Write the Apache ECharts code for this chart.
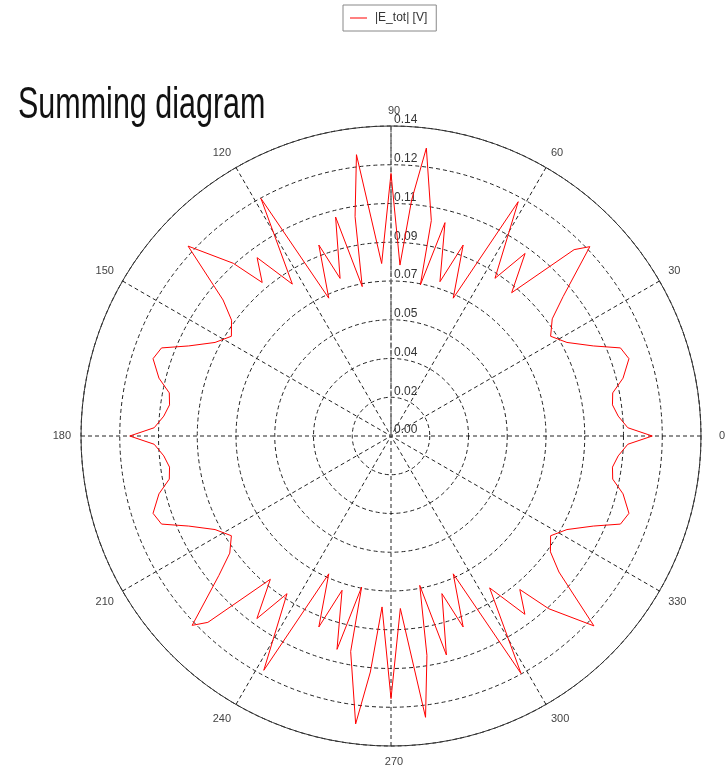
<!DOCTYPE html>
<html>
<head>
<meta charset="utf-8">
<script src="https://cdn.jsdelivr.net/npm/echarts@6/dist/echarts.min.js"></script>
<style>
html, body { margin: 0; padding: 0; background: #fff; }
#polar_chart { width: 726px; height: 765px; }
</style>
</head>
<body>
<div id="polar_chart"></div>
<script>
// angle in degrees (0 = right, counter-clockwise), value in V
var angles = [
    0, 2, 5, 8, 11, 14, 18, 21, 24, 28, 32, 36, 39, 43.6, 45.5, 49.9, 53.7, 56.6, 61.5, 65.7, 69.3, 72.4, 75.8, 79, 79.4, 83, 85, 87,
    90, 93.1, 97, 99.3, 100.9, 104.2, 107.9, 110.7, 114.3, 118.7, 123, 126.9, 130, 132.4, 136.9, 141, 144, 148, 152, 156, 159, 162, 166, 169, 172, 175, 178,
    180, 182, 185, 188, 191, 194, 198, 201, 204, 208, 212, 216, 219, 223.6, 225.5, 229.9, 233.7, 236.6, 241.5, 245.7, 249.3, 252.4, 255.8, 259, 259.4, 263, 265, 267,
    270, 273.1, 277, 279.3, 280.9, 284.2, 287.9, 290.7, 294.3, 298.7, 303, 306.9, 310, 312.4, 316.9, 321, 324, 328, 332, 336, 339, 342, 346, 349, 352, 355, 358
];
var values = [
    0.118, 0.107, 0.103, 0.101, 0.102, 0.108, 0.113, 0.111, 0.100, 0.090, 0.085, 0.090, 0.100, 0.124, 0.118, 0.0846, 0.1023, 0.0853, 0.1204, 0.0683, 0.0922, 0.0731, 0.0994, 0.0695, 0.099, 0.131, 0.107, 0.0773,
    0.1186, 0.078, 0.128, 0.1004, 0.0687, 0.102, 0.0748, 0.0922, 0.0683, 0.1223, 0.0818, 0.1007, 0.0905, 0.1056, 0.1255, 0.0976, 0.089, 0.085, 0.090, 0.100, 0.111, 0.113, 0.108, 0.102, 0.101, 0.103, 0.107,
    0.118, 0.107, 0.103, 0.101, 0.102, 0.108, 0.113, 0.111, 0.100, 0.090, 0.085, 0.090, 0.100, 0.124, 0.118, 0.0846, 0.1023, 0.0853, 0.1204, 0.0683, 0.0922, 0.0731, 0.0994, 0.0695, 0.099, 0.131, 0.107, 0.0773,
    0.1186, 0.078, 0.128, 0.1004, 0.0687, 0.102, 0.0748, 0.0922, 0.0683, 0.1223, 0.0818, 0.1007, 0.0905, 0.1056, 0.1255, 0.0976, 0.089, 0.085, 0.090, 0.100, 0.111, 0.113, 0.108, 0.102, 0.101, 0.103, 0.107
];
var angleTicks = [0, 30, 60, 90, 120, 150, 180, 210, 240, 270, 300, 330];
var radiusMax = 0.14;
var seriesName = '|E_tot| [V]';

var chart = echarts.init(document.getElementById('polar_chart'));

// radius axis sits on the 90 degree line, so the angle axis runs 90..450
var data = [];
for (var i = 0; i < angles.length; i++) {
    var a = angles[i] < 90 ? angles[i] + 360 : angles[i];
    data.push([values[i], a]);
}
data.sort(function (p, q) { return p[1] - q[1]; });
data.push([values[angles.indexOf(90)], 450]);

var dash = { color: '#222', type: [4, 3], width: 1 };

var option = {
    animation: false,
    color: ['#ff0000'],
    graphic: [{
        type: 'text',
        left: 18,
        top: 83,
        scaleY: 1.45,
        style: { text: 'Summing diagram', font: '30.5px "Liberation Sans"', fill: '#111' }
    }],
    legend: {
        data: [seriesName],
        top: 5,
        left: 343,
        icon: 'rect',
        itemWidth: 17,
        itemHeight: 1,
        padding: [7, 9, 7, 7],
        borderColor: '#888',
        borderWidth: 1,
        textStyle: { fontFamily: 'Liberation Sans', fontSize: 12, color: '#333', padding: [0, 0, 0, 3] }
    },
    polar: { center: [391, 436], radius: 310 },
    angleAxis: {
        type: 'value',
        min: 90,
        max: 450,
        interval: 30,
        startAngle: 90,
        clockwise: false,
        axisLine: { lineStyle: { color: '#333', width: 1 } },
        axisTick: { show: false },
        axisLabel: {
            margin: 10,
            fontFamily: 'Liberation Sans',
            fontSize: 11,
            color: '#444',
            formatter: function (v) {
                var d = v % 360;
                if (v >= 450 || angleTicks.indexOf(d) < 0) return '';
                if (d === 0) return '{r|0}';
                if (d === 90) return '{t|90}';
                if (d === 270) return '{t|270}';
                return String(d);
            },
            rich: {
                r: { fontFamily: 'Liberation Sans', fontSize: 11, color: '#444', padding: [0, 0, 0, 8] },
                t: { fontFamily: 'Liberation Sans', fontSize: 11, color: '#444', padding: [0, 0, 0, 6] }
            }
        },
        splitLine: { lineStyle: dash }
    },
    radiusAxis: {
        type: 'value',
        min: 0,
        max: radiusMax,
        interval: radiusMax / 8,
        axisLine: { lineStyle: { color: '#777', type: [5, 3], width: 1.5 } },
        axisTick: { show: false },
        axisLabel: {
            margin: -3,
            align: 'left',
            verticalAlign: 'bottom',
            fontFamily: 'Liberation Sans',
            fontSize: 12,
            color: '#333',
            formatter: function (v) { return (Math.round(v * 100 + 1e-9) / 100).toFixed(2); }
        },
        splitLine: { lineStyle: dash }
    },
    series: [{
        name: seriesName,
        type: 'line',
        coordinateSystem: 'polar',
        showSymbol: false,
        lineStyle: { color: '#ff0000', width: 1 },
        itemStyle: { color: '#ff0000' },
        data: data
    }]
};
chart.setOption(option);
</script>
</body>
</html>
